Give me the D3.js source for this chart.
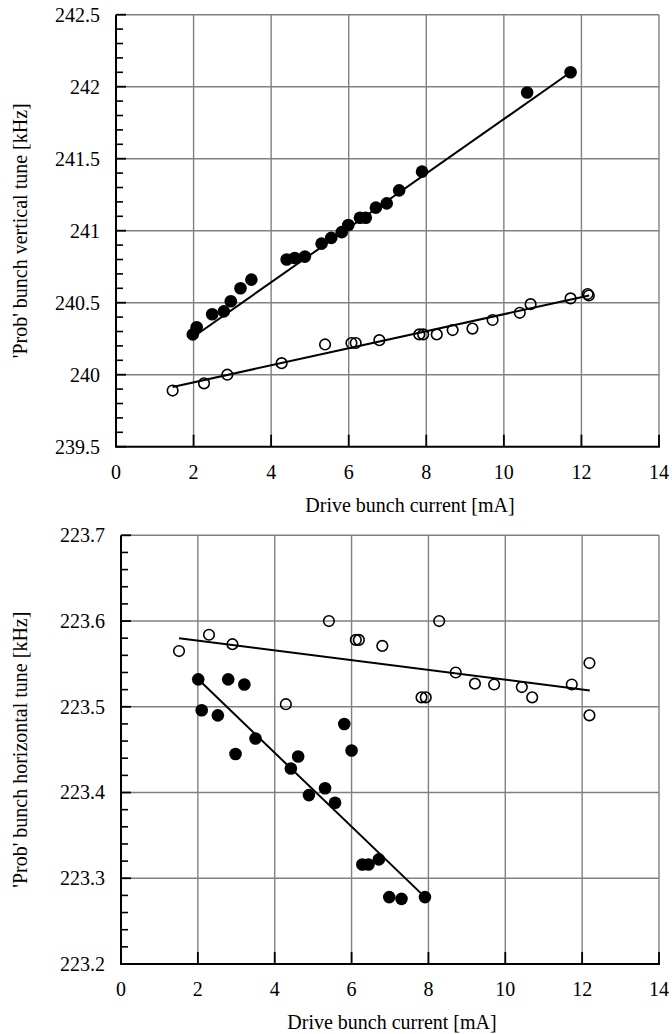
<!DOCTYPE html>
<html>
<head>
<meta charset="utf-8">
<style>
    body { margin: 0; background: #fff; }
    svg { display: block; }
    .grid line { stroke: #808080; stroke-width: 1.4; }
    .tick-label { font-size: 20px; fill: #000; }
    .axis-title { font-size: 20px; fill: #000; }
</style>
</head>
<body>
<svg width="672" height="1034" font-family="'Liberation Serif', 'DejaVu Serif', serif"></svg>

<script src="https://d3js.org/d3.v7.min.js"></script>
<script>
    // ---- data ----
    const xTicks = [0, 2, 4, 6, 8, 10, 12, 14];
    const xTickLabels = ["0", "2", "4", "6", "8", "10", "12", "14"];

    // top panel: vertical tune
    const vertTicks = [239.5, 240, 240.5, 241, 241.5, 242, 242.5];
    const vertTickLabels = ["239.5", "240", "240.5", "241", "241.5", "242", "242.5"];
    const vertFilledX = [1.98, 2.08, 2.48, 2.78, 2.96, 3.21, 3.49, 4.40, 4.61, 4.87, 5.30, 5.55, 5.82, 5.99, 6.29, 6.44, 6.70, 6.98, 7.30, 7.89, 10.60, 11.72];
    const vertFilledY = [240.28, 240.33, 240.42, 240.44, 240.51, 240.60, 240.66, 240.80, 240.81, 240.82, 240.91, 240.95, 240.99, 241.04, 241.09, 241.09, 241.16, 241.19, 241.28, 241.41, 241.96, 242.10];
    const vertOpenX = [1.46, 2.27, 2.87, 4.27, 5.39, 6.07, 6.18, 6.79, 7.82, 7.92, 8.27, 8.68, 9.19, 9.71, 10.41, 10.69, 11.72, 12.16, 12.19];
    const vertOpenY = [239.89, 239.94, 240.00, 240.08, 240.21, 240.22, 240.22, 240.24, 240.28, 240.28, 240.28, 240.31, 240.32, 240.38, 240.43, 240.49, 240.53, 240.56, 240.55];
    const vertFilledFitX = [1.98, 11.72];
    const vertFilledFitY = [240.26, 242.10];
    const vertOpenFitX = [1.46, 12.2];
    const vertOpenFitY = [239.915, 240.55];

    // bottom panel: horizontal tune
    const horTicks = [223.2, 223.3, 223.4, 223.5, 223.6, 223.7];
    const horTickLabels = ["223.2", "223.3", "223.4", "223.5", "223.6", "223.7"];
    const horFilledX = [2.01, 2.10, 2.52, 2.79, 2.98, 3.21, 3.50, 4.42, 4.61, 4.89, 5.31, 5.57, 5.81, 6.00, 6.28, 6.44, 6.71, 6.98, 7.30, 7.91];
    const horFilledY = [223.532, 223.496, 223.490, 223.532, 223.445, 223.526, 223.463, 223.428, 223.442, 223.397, 223.405, 223.388, 223.480, 223.449, 223.316, 223.316, 223.322, 223.278, 223.276, 223.278];
    const horOpenX = [1.51, 2.29, 2.90, 4.29, 5.41, 6.11, 6.19, 6.80, 7.82, 7.93, 8.28, 8.71, 9.21, 9.71, 10.43, 10.70, 11.73, 12.19, 12.19];
    const horOpenY = [223.565, 223.584, 223.573, 223.503, 223.600, 223.578, 223.578, 223.571, 223.511, 223.511, 223.600, 223.540, 223.527, 223.526, 223.523, 223.511, 223.526, 223.551, 223.490];
    const horFilledFitX = [2.01, 7.91];
    const horFilledFitY = [223.532, 223.278];
    const horOpenFitX = [1.51, 12.2];
    const horOpenFitY = [223.58, 223.519];

    const svg = d3.select("svg");

    function drawPanel(p) {
        const x = d3.scaleLinear().domain([0, 14]).range([p.left, p.right]);
        const y = d3.scaleLinear().domain(p.yDomain).range([p.bottom, p.top]);
        const g = svg.append("g");

        // gridlines
        const grid = g.append("g").attr("class", "grid");
        grid.selectAll(".gx").data(xTicks.slice(1))
            .join("line")
            .attr("x1", d => x(d)).attr("x2", d => x(d))
            .attr("y1", p.top).attr("y2", p.bottom);
        grid.selectAll(".gy").data(p.yTicks.slice(1))
            .join("line")
            .attr("x1", p.left).attr("x2", p.right)
            .attr("y1", d => y(d)).attr("y2", d => y(d));

        // minor y ticks (inside)
        const minor = d3.range(p.yDomain[0], p.yDomain[1] + 1e-9, p.minorStep)
            .filter(v => !p.yTicks.some(t => Math.abs(t - v) < 1e-6));
        g.selectAll(".minor").data(minor)
            .join("line")
            .attr("x1", p.left).attr("x2", p.left + 7)
            .attr("y1", d => y(d)).attr("y2", d => y(d))
            .attr("stroke", "#000").attr("stroke-width", 1.6);
        g.selectAll(".major").data(p.yTicks)
            .join("line")
            .attr("x1", p.left).attr("x2", p.left + 10)
            .attr("y1", d => y(d)).attr("y2", d => y(d))
            .attr("stroke", "#000").attr("stroke-width", 1.8);
        g.selectAll(".xmajor").data(xTicks.slice(1))
            .join("line")
            .attr("x1", d => x(d)).attr("x2", d => x(d))
            .attr("y1", p.bottom).attr("y2", p.bottom - 12)
            .attr("stroke", "#000").attr("stroke-width", 1.8);

        // axes
        g.append("line")
            .attr("x1", p.left).attr("x2", p.left)
            .attr("y1", p.top).attr("y2", p.bottom)
            .attr("stroke", "#000").attr("stroke-width", 2);
        g.append("line")
            .attr("x1", p.left - 1).attr("x2", p.right + 1)
            .attr("y1", p.bottom).attr("y2", p.bottom)
            .attr("stroke", "#000").attr("stroke-width", 2);

        // tick labels
        g.selectAll(".ylab").data(p.yTicks)
            .join("text")
            .attr("class", "tick-label")
            .attr("x", p.left - 16)
            .attr("y", d => y(d))
            .attr("dy", "0.34em")
            .attr("text-anchor", "end")
            .text((d, i) => p.yLabels[i]);
        g.selectAll(".xlab").data(xTicks)
            .join("text")
            .attr("class", "tick-label")
            .attr("x", d => x(d))
            .attr("y", p.bottom + 32)
            .attr("text-anchor", "middle")
            .text((d, i) => xTickLabels[i]);

        // titles
        g.append("text")
            .attr("class", "axis-title")
            .attr("x", p.xTitleX)
            .attr("y", p.bottom + 65)
            .attr("text-anchor", "middle")
            .text("Drive bunch current [mA]");
        g.append("text")
            .attr("class", "axis-title")
            .attr("transform", `translate(27,${(p.top + p.bottom) / 2}) rotate(-90)`)
            .attr("text-anchor", "middle")
            .text(p.yTitle);

        // fit lines
        const line = d3.line().x(d => x(d[0])).y(d => y(d[1]));
        [[p.openFitX, p.openFitY], [p.filledFitX, p.filledFitY]].forEach(([fx, fy]) => {
            g.append("path")
                .attr("d", line(d3.zip(fx, fy)))
                .attr("fill", "none")
                .attr("stroke", "#000")
                .attr("stroke-width", 2);
        });

        // points
        g.selectAll(".open").data(d3.zip(p.openX, p.openY))
            .join("circle")
            .attr("cx", d => x(d[0])).attr("cy", d => y(d[1]))
            .attr("r", 5.3)
            .attr("fill", "none")
            .attr("stroke", "#000").attr("stroke-width", 1.6);
        g.selectAll(".filled").data(d3.zip(p.filledX, p.filledY))
            .join("circle")
            .attr("cx", d => x(d[0])).attr("cy", d => y(d[1]))
            .attr("r", 6.3)
            .attr("fill", "#000");
    }

    drawPanel({
        left: 116, right: 659, top: 14.7, bottom: 446.7,
        yDomain: [239.5, 242.5], yTicks: vertTicks, yLabels: vertTickLabels, minorStep: 0.1,
        filledX: vertFilledX, filledY: vertFilledY, openX: vertOpenX, openY: vertOpenY,
        filledFitX: vertFilledFitX, filledFitY: vertFilledFitY,
        openFitX: vertOpenFitX, openFitY: vertOpenFitY,
        yTitle: "'Prob' bunch vertical tune [kHz]", xTitleX: 410
    });

    drawPanel({
        left: 121, right: 659, top: 535.3, bottom: 964,
        yDomain: [223.2, 223.7], yTicks: horTicks, yLabels: horTickLabels, minorStep: 0.02,
        filledX: horFilledX, filledY: horFilledY, openX: horOpenX, openY: horOpenY,
        filledFitX: horFilledFitX, filledFitY: horFilledFitY,
        openFitX: horOpenFitX, openFitY: horOpenFitY,
        yTitle: "'Prob' bunch horizontal tune [kHz]", xTitleX: 392
    });
</script>
</body>
</html>
